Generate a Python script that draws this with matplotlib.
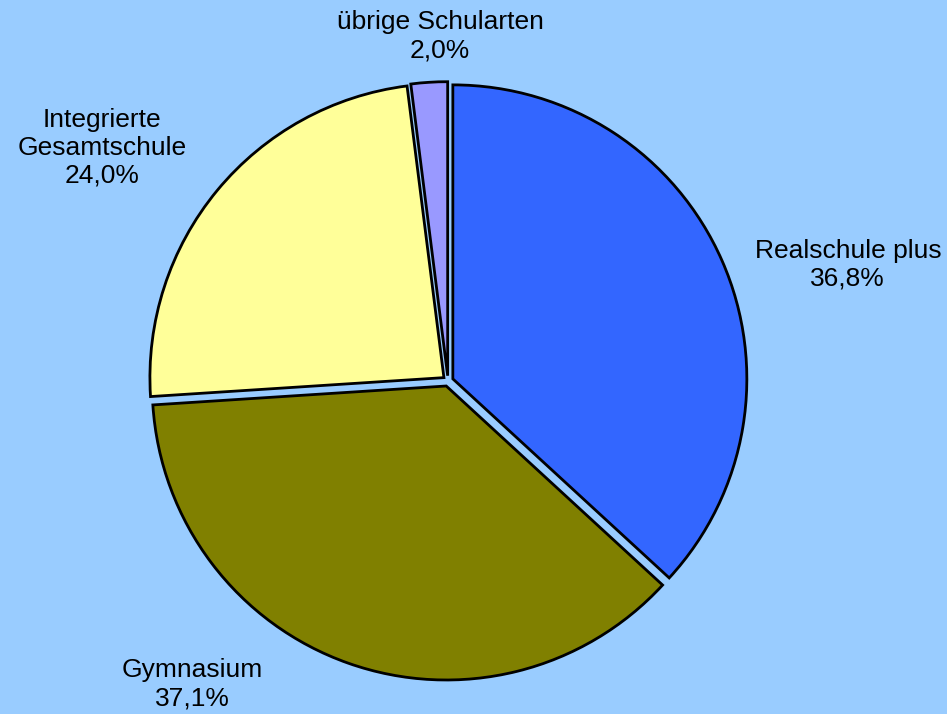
import matplotlib
matplotlib.use("Agg")
import matplotlib.pyplot as plt

categories = ["Realschule plus", "Gymnasium", "Integrierte\nGesamtschule", "übrige Schularten"]
values = [36.8, 37.1, 24.0, 2.0]
value_labels = ["36,8%", "37,1%", "24,0%", "2,0%"]
colors = ["#3366FF", "#808000", "#FFFF99", "#9999FF"]

bg = "#99CCFF"
plt.rcParams['font.family'] = ['Liberation Sans', 'DejaVu Sans']

fig = plt.figure(figsize=(9.47, 7.14), dpi=100, facecolor=bg)
W, H = 947, 714
cx, cy, R = 448, 381, 294
ax = fig.add_axes([(cx - R) / W, (H - cy - R) / H, 2 * R / W, 2 * R / H])
ax.set_facecolor(bg)
ax.axis('off')

wedges, _ = ax.pie(values, colors=colors, startangle=90, counterclock=False,
                   explode=[0.018] * len(values), radius=1.0,
                   wedgeprops=dict(edgecolor='black', linewidth=2.0))
ax.set_xlim(-1, 1)
ax.set_ylim(-1, 1)
ax.set_aspect('equal')

# label centres (in units of pie radius, relative to centre)
label_pos = [(1.36, 0.395), (-0.871, -1.031), (-1.177, 0.793), (-0.027, 1.173)]
for cat, vl, (x, y) in zip(categories, value_labels, label_pos):
    ax.text(x, y, f"{cat}\n{vl}", ha='center', va='center', fontsize=19,
            linespacing=1.2, clip_on=False, color='black')

fig.savefig("out.png", dpi=100, facecolor=bg)
